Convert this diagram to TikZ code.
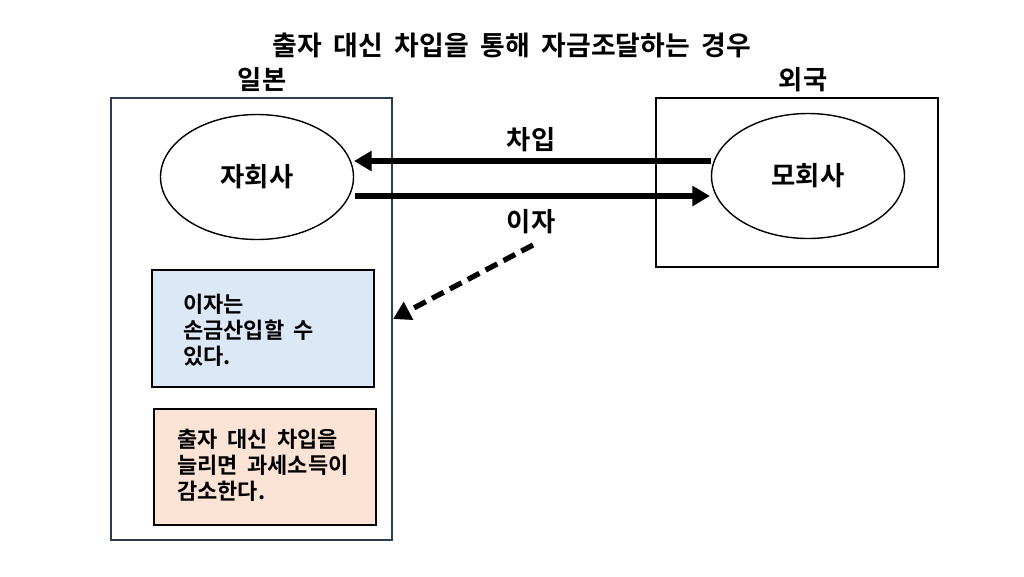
\documentclass[tikz,border=0pt]{standalone}
\usepackage{fontspec}
\setmainfont{Noto Sans CJK KR}[BoldFont={Noto Sans CJK KR Bold}, WordSpace=1.9]
\usetikzlibrary{arrows.meta,shapes.geometric}
\definecolor{jpborder}{RGB}{45,60,78}
\definecolor{bluefill}{RGB}{220,232,245}
\definecolor{pinkfill}{RGB}{251,227,214}
\newlength{\px}\setlength{\px}{0.02cm}
\tikzset{
  lbl/.style={font=\bfseries\fontsize{15}{17}\selectfont, inner sep=0pt},
  titlelbl/.style={font=\bfseries\fontsize{15.3}{17}\selectfont, inner sep=0pt},
  company/.style={draw, line width=0.8pt, ellipse, minimum width=193\px, minimum height=125\px, font=\bfseries\fontsize{15}{17}\selectfont},
  notebox/.style={draw, line width=0.9pt, anchor=north west, inner sep=0pt},
  notetext/.style={anchor=north west, font=\bfseries\fontsize{12.5}{14.8}\selectfont, align=left, inner sep=0pt},
  flow/.style={line width=2.9pt, -{Triangle[length=10pt,width=11pt]}},
}
\begin{document}
\begin{tikzpicture}[x=0.02cm,y=-0.02cm]
\useasboundingbox[fill=white] (0,0) rectangle (1024,576);
\node[titlelbl] (title) at (512,45) {출자 대신 차입을 통해 자금조달하는 경우};
\node[lbl] (jp) at (262,80) {일본};
\node[lbl] (fr) at (803,80) {외국};
\draw[jpborder, line width=0.9pt] (111,98) rectangle (392,540);
\draw[line width=0.9pt] (656,98) rectangle (938,267);
\node[company] (sub) at (257,177) {자회사};
\node[company] (par) at (808,176) {모회사};
\coordinate (a1s) at (711,161);
\coordinate (a1e) at (354,161);
\coordinate (a2s) at (355,196);
\coordinate (a2e) at (710,196);
\draw[flow] (a1s) -- (a1e);
\draw[flow] (a2s) -- (a2e);
\node[lbl] (borrow) at (531,140) {차입};
\node[lbl] (intr) at (531,222) {이자};
\coordinate (ds) at (533,245);
\coordinate (de) at (393,319);
\draw[line width=3pt, dash pattern=on 7.5pt off 4pt, -{Triangle[length=10pt,width=11pt]}] (ds) -- (de);
\node[notebox, fill=bluefill, minimum width=222\px, minimum height=117\px] (blue) at (151,269) {};
\node[notetext] (bluet) at (183,294) {이자는\\손금산입할 수\\있다.};
\node[notebox, fill=pinkfill, minimum width=222\px, minimum height=116\px] (pink) at (153,408) {};
\node[notetext] (pinkt) at (177,429) {출자 대신 차입을\\늘리면 과세소득이\\감소한다.};
\end{tikzpicture}
\end{document}
